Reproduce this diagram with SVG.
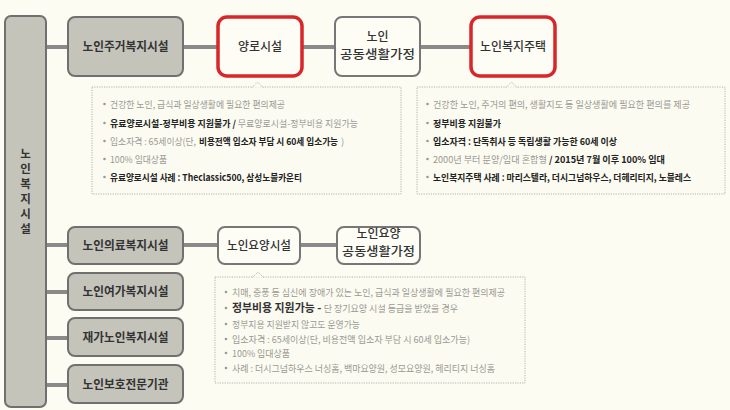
<svg xmlns="http://www.w3.org/2000/svg" width="730" height="410" viewBox="0 0 730 410">
<style>
.g{fill:#c4c4bb;stroke:#707070;stroke-width:2}
.w{fill:#fdfdf6;stroke:#777;stroke-width:2}
.r{fill:#fdfdf6;stroke:#d8262a;stroke-width:3.5}
.lbl{font-family:"Noto Sans CJK KR","Noto Sans",sans-serif;font-size:12px;fill:#333;text-anchor:middle;font-weight:500}
.b{font-weight:bold}
.v{font-size:11.5px}
.c{fill:#fbfbf1;stroke:#b4b4aa;stroke-width:1;stroke-dasharray:1.2 1.2}
.t{font-family:"Noto Sans CJK KR","Noto Sans",sans-serif;font-size:9.5px;fill:#9a9a94}
.k{fill:#222;font-weight:bold}
.dot{fill:#9a9a94}
</style>
<rect width="730" height="410" fill="#fcfcf3"/>
<g id="connectors" stroke="#8a8a8a" stroke-width="4" fill="none">
<line x1="46" y1="47" x2="68" y2="47"/>
<line x1="183" y1="47" x2="217" y2="47"/>
<line x1="302" y1="47" x2="335" y2="47"/>
<line x1="420" y1="47" x2="470" y2="47"/>
<line x1="46" y1="245" x2="68" y2="245"/>
<line x1="183" y1="245" x2="218" y2="245"/>
<line x1="300" y1="245" x2="337" y2="245"/>
<line x1="46" y1="292" x2="68" y2="292"/>
<line x1="46" y1="338" x2="68" y2="338"/>
<line x1="46" y1="385" x2="68" y2="385"/>
</g>
<g id="root">
<rect class="g" x="5" y="16" width="41" height="391" rx="6"/>
<g class="lbl b v">
<text x="25.5" y="158">노</text><text x="25.5" y="173">인</text><text x="25.5" y="188">복</text><text x="25.5" y="203">지</text><text x="25.5" y="218">시</text><text x="25.5" y="233">설</text>
</g>
</g>
<g id="n-housing"><rect class="g" x="68" y="17" width="115" height="59" rx="7"/><text class="lbl b" x="125.5" y="51" textLength="86" lengthAdjust="spacingAndGlyphs">노인주거복지시설</text></g>
<g id="n-yangro"><rect class="r" x="218" y="17" width="84" height="59" rx="9"/><text class="lbl" x="260" y="51">양로시설</text></g>
<g id="n-group"><rect class="w" x="335" y="17" width="85" height="59" rx="7"/><text class="lbl" x="377.5" y="41">노인</text><text class="lbl" x="377.5" y="59" textLength="75" lengthAdjust="spacingAndGlyphs">공동생활가정</text></g>
<g id="n-welfarehouse"><rect class="r" x="471" y="17" width="84" height="59" rx="9"/><text class="lbl" x="513" y="51" textLength="66" lengthAdjust="spacingAndGlyphs">노인복지주택</text></g>
<g id="n-medical"><rect class="g" x="68" y="227" width="115" height="37" rx="7"/><text class="lbl b" x="125.5" y="250" textLength="86" lengthAdjust="spacingAndGlyphs">노인의료복지시설</text></g>
<g id="n-nursing"><rect class="w" x="218" y="227" width="82" height="37" rx="7"/><text class="lbl" x="259" y="250" textLength="64" lengthAdjust="spacingAndGlyphs">노인요양시설</text></g>
<g id="n-nursinggroup"><rect class="w" x="337" y="227" width="83" height="37" rx="7"/><text class="lbl" x="378.5" y="238">노인요양</text><text class="lbl" x="378.5" y="256" textLength="73" lengthAdjust="spacingAndGlyphs">공동생활가정</text></g>
<g id="n-leisure"><rect class="g" x="68" y="273" width="115" height="37" rx="7"/><text class="lbl b" x="125.5" y="296" textLength="86" lengthAdjust="spacingAndGlyphs">노인여가복지시설</text></g>
<g id="n-home"><rect class="g" x="68" y="318" width="115" height="38" rx="7"/><text class="lbl b" x="125.5" y="342" textLength="86" lengthAdjust="spacingAndGlyphs">재가노인복지시설</text></g>
<g id="n-protect"><rect class="g" x="68" y="365" width="115" height="38" rx="7"/><text class="lbl b" x="125.5" y="389" textLength="86" lengthAdjust="spacingAndGlyphs">노인보호전문기관</text></g>

<g id="callout-yangro">
<rect class="c" x="92" y="87" width="309" height="107"/>
<path d="M252 87.5 L257.5 82 L263 87.5" fill="#fbfbf1" stroke="#b4b4aa" stroke-width="1" stroke-dasharray="1.2 1.2"/>
<g class="dot"><circle cx="104.5" cy="104" r="1.3"/><circle cx="104.5" cy="123" r="1.3"/><circle cx="104.5" cy="141" r="1.3"/><circle cx="104.5" cy="159" r="1.3"/><circle cx="104.5" cy="177" r="1.3"/></g>
<text class="t" x="110" y="107.5" textLength="175" lengthAdjust="spacingAndGlyphs">건강한 노인, 급식과 일상생활에 필요한 편의제공</text>
<text class="t" x="110" y="126.5" textLength="248" lengthAdjust="spacingAndGlyphs"><tspan class="k">유료양로시설-정부비용 지원불가 / </tspan>무료양로시설-정부비용 지원가능</text>
<text class="t" x="110" y="144.5" textLength="86" lengthAdjust="spacingAndGlyphs">입소자격 : 65세이상(단,</text>
<text class="t k" x="199" y="144.5" textLength="139" lengthAdjust="spacingAndGlyphs">비용전액 입소자 부담 시 60세 입소가능</text>
<text class="t" x="341" y="144.5">)</text>
<text class="t" x="110" y="162.5" textLength="57" lengthAdjust="spacingAndGlyphs">100% 임대상품</text>
<text class="t k" x="110" y="180.5" textLength="192" lengthAdjust="spacingAndGlyphs">유료양로시설 사례 : Theclassic500, 삼성노블카운티</text>
</g>

<g id="callout-welfarehouse">
<rect class="c" x="417" y="87" width="308" height="107"/>
<path d="M506 87.5 L511.5 82 L517 87.5" fill="#fbfbf1" stroke="#b4b4aa" stroke-width="1" stroke-dasharray="1.2 1.2"/>
<g class="dot"><circle cx="427.5" cy="104" r="1.3"/><circle cx="427.5" cy="123" r="1.3"/><circle cx="427.5" cy="141" r="1.3"/><circle cx="427.5" cy="159" r="1.3"/><circle cx="427.5" cy="177" r="1.3"/></g>
<text class="t" x="433" y="107.5" textLength="257" lengthAdjust="spacingAndGlyphs">건강한 노인, 주거의 편의, 생활지도 등 일상생활에 필요한 편의를 제공</text>
<text class="t k" x="433" y="126.5" textLength="68" lengthAdjust="spacingAndGlyphs">정부비용 지원불가</text>
<text class="t k" x="433" y="144.5" textLength="184" lengthAdjust="spacingAndGlyphs">입소자격 : 단독취사 등 독립생활 가능한 60세 이상</text>
<text class="t" x="433" y="162.5" textLength="232" lengthAdjust="spacingAndGlyphs">2000년 부터 분양/임대 혼합형 <tspan class="k">/ 2015년 7월 이후 100% 임대</tspan></text>
<text class="t k" x="433" y="180.5" textLength="258" lengthAdjust="spacingAndGlyphs">노인복지주택 사례 : 마리스텔라, 더시그넘하우스, 더헤리티지, 노블레스</text>
</g>

<g id="callout-nursing">
<rect class="c" x="215" y="277" width="310" height="106"/>
<path d="M252.5 277.5 L258 272 L263.5 277.5" fill="#fbfbf1" stroke="#b4b4aa" stroke-width="1" stroke-dasharray="1.2 1.2"/>
<g class="dot"><circle cx="226" cy="292" r="1.3"/><circle cx="226" cy="308" r="1.3"/><circle cx="226" cy="324" r="1.3"/><circle cx="226" cy="339" r="1.3"/><circle cx="226" cy="353" r="1.3"/><circle cx="226" cy="368" r="1.3"/></g>
<text class="t" x="232" y="295.5" textLength="273" lengthAdjust="spacingAndGlyphs">치매, 중풍 등 심신에 장애가 있는 노인, 급식과 일상생활에 필요한 편의제공</text>
<text class="t" x="232" y="312" textLength="226" lengthAdjust="spacingAndGlyphs"><tspan class="k" style="font-size:11.5px;fill:#333">정부비용 지원가능 - </tspan>단 장기요양 시설 등급을 받았을 경우</text>
<text class="t" x="232" y="327.5" textLength="128" lengthAdjust="spacingAndGlyphs">정부지용 지원받지 않고도 운영가능</text>
<text class="t" x="232" y="342.5" textLength="238" lengthAdjust="spacingAndGlyphs">입소자격 : 65세이상(단, 비용전액 입소자 부담 시 60세 입소가능)</text>
<text class="t" x="232" y="356.5" textLength="58" lengthAdjust="spacingAndGlyphs">100% 임대상품</text>
<text class="t" x="232" y="371.5" textLength="263" lengthAdjust="spacingAndGlyphs">사례 : 더시그넘하우스 너싱홈, 백마요양원, 성모요양원, 헤리티지 너싱홈</text>
</g>
</svg>
